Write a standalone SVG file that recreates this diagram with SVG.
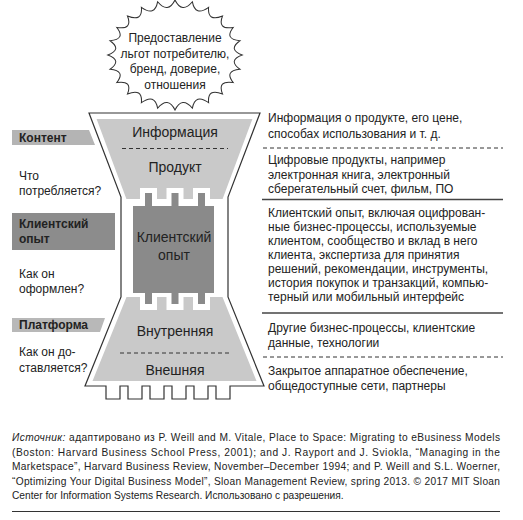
<svg xmlns="http://www.w3.org/2000/svg" width="523" height="520" viewBox="0 0 523 520">
<style>
text{font-family:"Liberation Sans","Noto Sans",Arial,sans-serif;fill:#222}
.t12{font-size:12px}
.b12{font-size:12px;font-weight:bold}
.f14{font-size:14px}
.cap{font-size:10.2px}
.dash{stroke:#333;stroke-width:1;stroke-dasharray:4 3;fill:none}
.solid{stroke:#444;stroke-width:1.5;fill:none}
</style>
<rect width="523" height="520" fill="#fff"/>
<g id="seal">
<path transform="translate(175 55) scale(1.05 1.02) translate(-175 -55)" d="M239,55 Q225.07,60.29 236.82,68.98 Q221.66,70.5 230.43,82 Q215.06,79.65 220.25,93.18 Q205.74,87.13 207,101.77 Q194.33,92.42 191.56,107.16 Q181.59,95.15 175,109 Q168.41,95.15 158.44,107.16 Q155.67,92.42 143,101.77 Q144.26,87.13 129.75,93.18 Q134.94,79.65 119.57,82 Q128.34,70.5 113.18,68.98 Q124.93,60.29 111,55 Q124.93,49.71 113.18,41.02 Q128.34,39.5 119.57,28 Q134.94,30.35 129.75,16.82 Q144.26,22.87 143,8.23 Q155.67,17.58 158.44,2.84 Q168.41,14.85 175,1 Q181.59,14.85 191.56,2.84 Q194.33,17.58 207,8.23 Q205.74,22.87 220.25,16.82 Q215.06,30.35 230.43,28 Q221.66,39.5 236.82,41.02 Q225.07,49.71 239,55 Z" fill="#fff" stroke="#333" stroke-width="1"/>
<text class="t12" text-anchor="middle" x="175" y="42">Предоставление</text>
<text class="t12" text-anchor="middle" x="175" y="57.5">льгот потребителю,</text>
<text class="t12" text-anchor="middle" x="175" y="73">бренд, доверие,</text>
<text class="t12" text-anchor="middle" x="175" y="88.5">отношения</text>
</g>
<g id="funnel">
<path d="M89,113 L260,113 L228,197 L228,297 L264,386 L230,386 L230,399 L216,399 L216,386 L208,386 L208,399 L194,399 L194,386 L186,386 L186,399 L172,399 L172,386 L164,386 L164,399 L150,399 L150,386 L142,386 L142,399 L128,399 L128,386 L120,386 L120,399 L106,399 L106,386 L85,386 L121,297 L121,197 Z" fill="#fff" stroke="#333" stroke-width="1.2"/>
<path id="top-region" d="M96.6,119 L252.4,119 L222.6,199 L210,199 L210,188 L193,188 L193,199 L183.5,199 L183.5,188 L166.5,188 L166.5,199 L157,199 L157,188 L140,188 L140,199 L126.4,199 Z" fill="#c9c9c9"/>
<path id="bottom-region" d="M126.5,297 L140,297 L140,310 L157,310 L157,297 L166.5,297 L166.5,310 L183.5,310 L183.5,297 L193,297 L193,310 L210,310 L210,297 L222.5,297 L256.5,381 L92.5,381 Z" fill="#c9c9c9"/>
<path id="core" d="M133,206 L145,206 L145,193 L152,193 L152,206 L171.5,206 L171.5,193 L178.5,193 L178.5,206 L198,206 L198,193 L205,193 L205,206 L214,206 L214,293 L205,293 L205,304 L198,304 L198,293 L178.5,293 L178.5,304 L171.5,304 L171.5,293 L152,293 L152,304 L145,304 L145,293 L133,293 Z" fill="#8a8a8a"/>
<line class="dash" x1="122" y1="148.5" x2="228" y2="148.5"/>
<line class="dash" x1="120" y1="353" x2="229" y2="353"/>
<text class="f14" text-anchor="middle" x="175" y="137">Информация</text>
<text class="f14" text-anchor="middle" x="175" y="172">Продукт</text>
<text class="f14" text-anchor="middle" x="174" y="242">Клиентский</text>
<text class="f14" text-anchor="middle" x="174" y="260">опыт</text>
<text class="f14" text-anchor="middle" x="175" y="336">Внутренняя</text>
<text class="f14" text-anchor="middle" x="175" y="375">Внешняя</text>
</g>
<g id="left-labels">
<path d="M12,130 L89,130 L95,145 L12,145 Z" fill="#b4b4b4"/>
<text class="b12" x="19" y="142">Контент</text>
<text class="t12" x="19" y="180">Что</text>
<text class="t12" x="19" y="195">потребляется?</text>
<rect x="12" y="213" width="103" height="37" fill="#8c8c8c"/>
<text class="b12" x="19" y="228">Клиентский</text>
<text class="b12" x="19" y="243">опыт</text>
<text class="t12" x="19" y="278">Как он</text>
<text class="t12" x="19" y="293">оформлен?</text>
<path d="M12,318 L105,318 L100,332 L12,332 Z" fill="#b8b8b8"/>
<text class="b12" x="19" y="329">Платформа</text>
<text class="t12" x="19" y="356">Как он до-</text>
<text class="t12" x="19" y="372">ставляется?</text>
</g>
<g id="right-text">
<text class="t12" x="268" y="122">Информация о продукте, его цене,</text>
<text class="t12" x="268" y="137.5">способах использования и т. д.</text>
<line class="dash" x1="263" y1="148" x2="503" y2="148"/>
<text class="t12" x="268" y="164">Цифровые продукты, например</text>
<text class="t12" x="268" y="178.5">электронная книга, электронный</text>
<text class="t12" x="268" y="193">сберегательный счет, фильм, ПО</text>
<line class="solid" x1="262" y1="199.5" x2="503" y2="199.5"/>
<text class="t12" x="268" y="217">Клиентский опыт, включая оцифрован-</text>
<text class="t12" x="268" y="231">ные бизнес-процессы, используемые</text>
<text class="t12" x="268" y="245">клиентом, сообщество и вклад в него</text>
<text class="t12" x="268" y="259">клиента, экспертиза для принятия</text>
<text class="t12" x="268" y="273">решений, рекомендации, инструменты,</text>
<text class="t12" x="268" y="287">история покупок и транзакций, компью-</text>
<text class="t12" x="268" y="301">терный или мобильный интерфейс</text>
<line class="solid" x1="262" y1="313" x2="503" y2="313"/>
<text class="t12" x="268" y="332">Другие бизнес-процессы, клиентские</text>
<text class="t12" x="268" y="347">данные, технологии</text>
<line class="dash" x1="263" y1="357" x2="503" y2="357"/>
<text class="t12" x="268" y="375">Закрытое аппаратное обеспечение,</text>
<text class="t12" x="268" y="390">общедоступные сети, партнеры</text>
</g>
<g id="caption">
<text class="cap" x="12" y="441" textLength="488" lengthAdjust="spacing"><tspan font-style="italic">Источник:</tspan> адаптировано из P. Weill and M. Vitale, Place to Space: Migrating to eBusiness Models</text>
<text class="cap" x="12" y="455.5" textLength="488" lengthAdjust="spacing">(Boston: Harvard Business School Press, 2001); and J. Rayport and J. Sviokla, “Managing in the</text>
<text class="cap" x="12" y="470" textLength="488" lengthAdjust="spacing">Marketspace”, Harvard Business Review, November–December 1994; and P. Weill and S.L. Woerner,</text>
<text class="cap" x="12" y="484.5" textLength="488" lengthAdjust="spacing">“Optimizing Your Digital Business Model”, Sloan Management Review, spring 2013. © 2017 MIT Sloan</text>
<text class="cap" x="12" y="499">Center for Information Systems Research. Использовано с разрешения.</text>
<line x1="12" y1="511.5" x2="500" y2="511.5" stroke="#333" stroke-width="1"/>
</g>
</svg>
